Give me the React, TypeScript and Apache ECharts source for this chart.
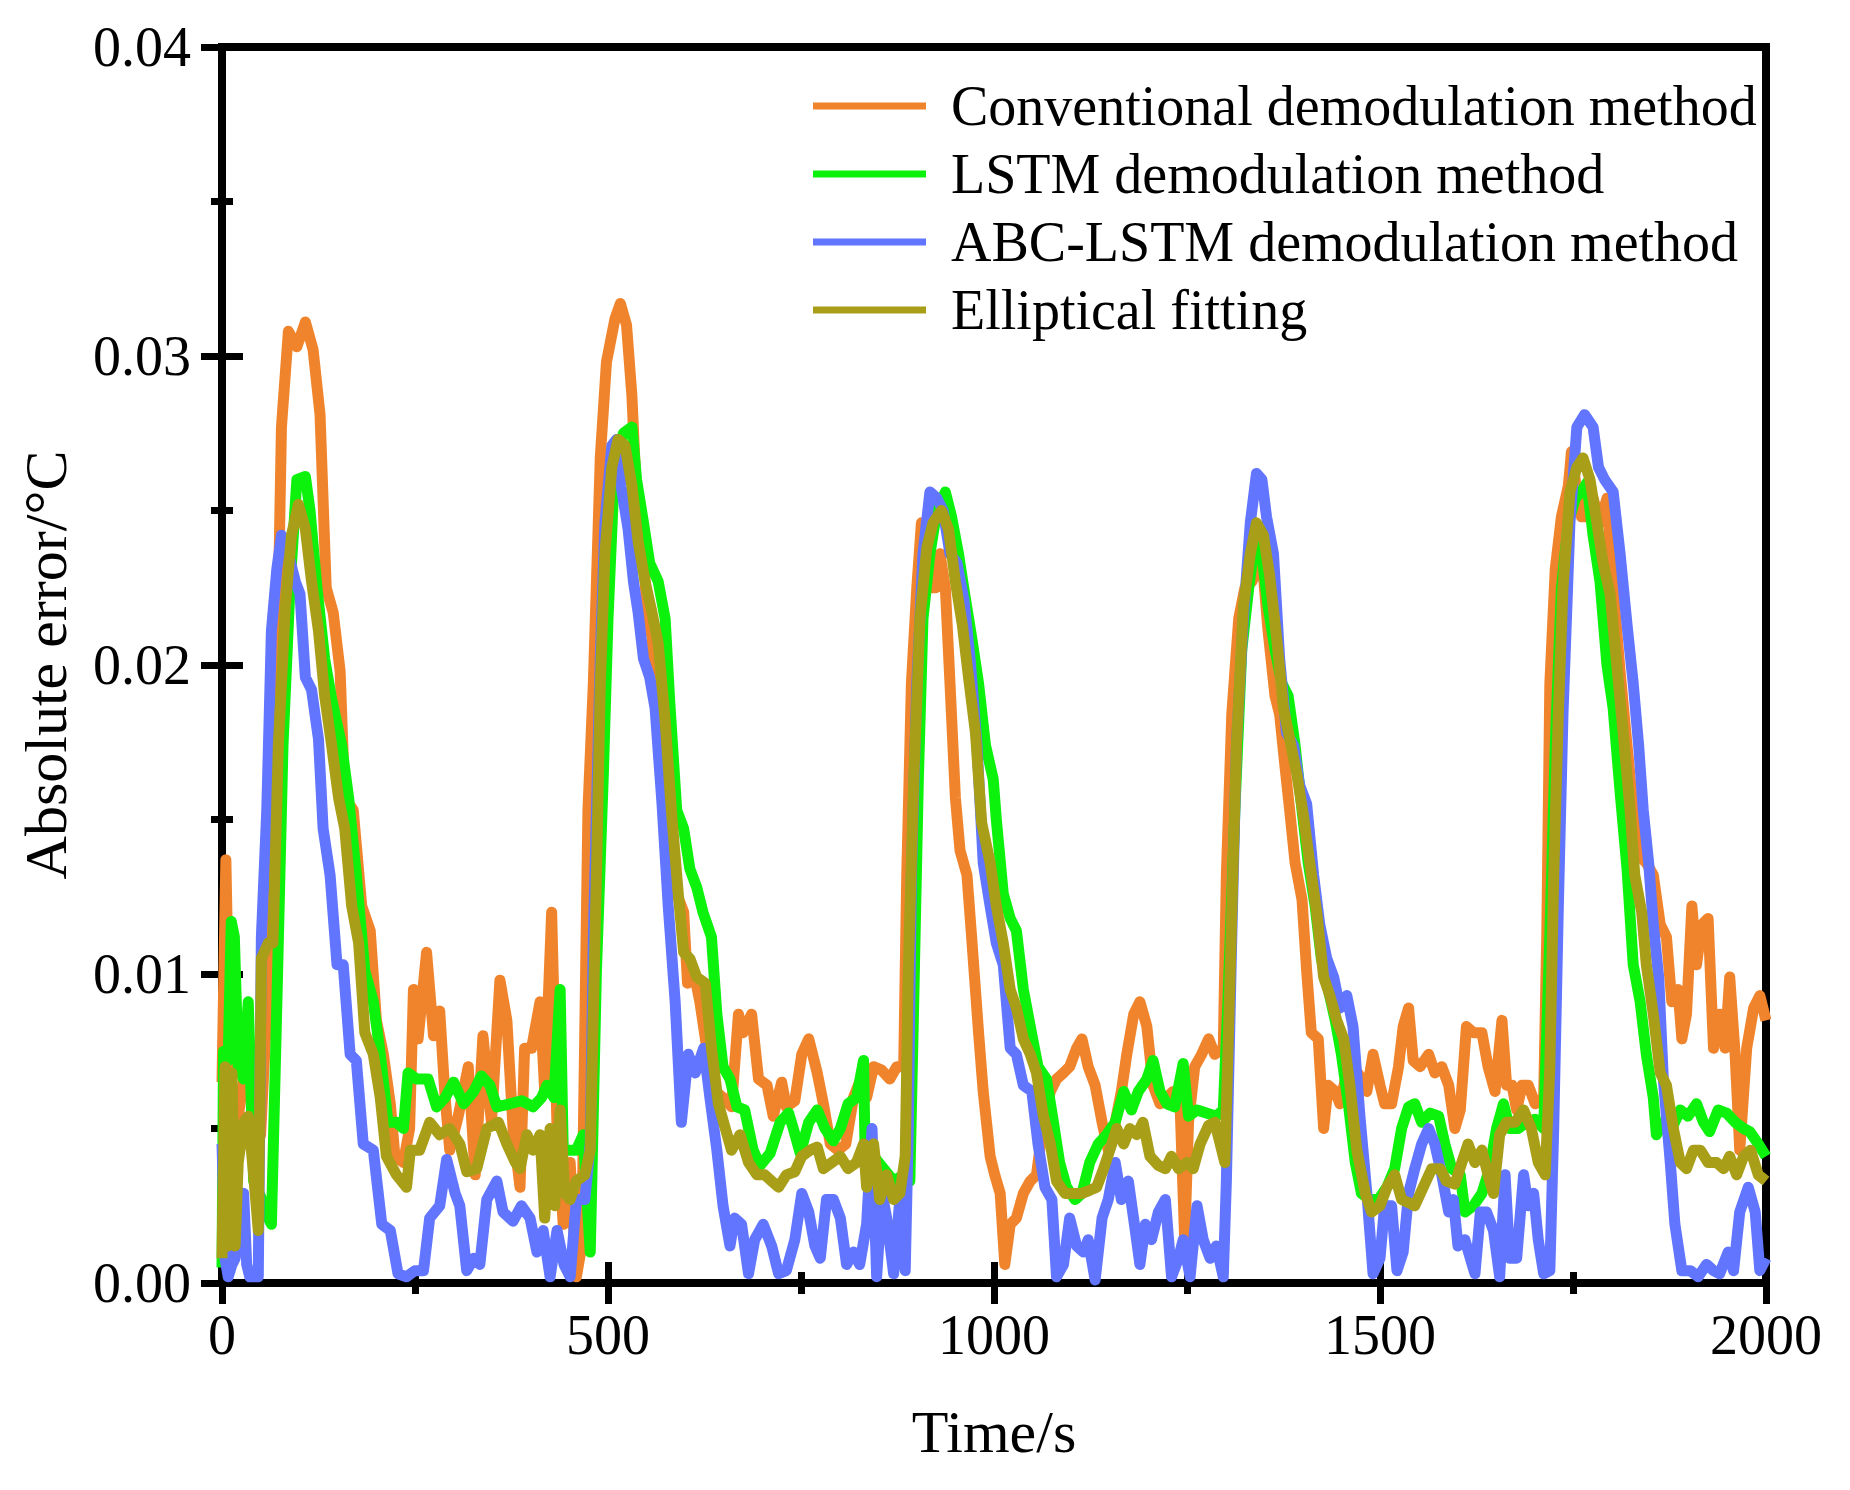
import * as echarts from "echarts";
import { useEffect, useRef } from "react";

const FONT = '"Liberation Serif", "Times New Roman", serif';

const seriesNames = [
  "Conventional demodulation method",
  "LSTM demodulation method",
  "ABC-LSTM demodulation method",
  "Elliptical fitting",
];
const seriesColors = ["#F0842C", "#0CF20C", "#6175FF", "#A89E18"];

// [time s, absolute error °C]
const conventional: [number, number][] = [
  [0, 0.0065], [5, 0.0137], [9, 0.0085], [14, 0.0048], [20, 0.0052], [28, 0.0066], [36, 0.0074], [42, 0.0042], [50, 0.0048], [56, 0.0078],
  [62, 0.0105], [71, 0.0194], [77, 0.0277], [86, 0.0308], [97, 0.0303], [108, 0.0311], [118, 0.0302], [127, 0.0281], [135, 0.0225], [144, 0.0217],
  [153, 0.0198], [159, 0.0157], [170, 0.0153], [181, 0.0122], [192, 0.0114], [200, 0.0085], [209, 0.0074], [218, 0.0058], [224, 0.0041], [235, 0.0039],
  [243, 0.005], [248, 0.0095], [254, 0.0079], [265, 0.0107], [274, 0.008], [282, 0.0088], [289, 0.006], [295, 0.0043], [306, 0.0054], [319, 0.007],
  [328, 0.0035], [338, 0.008], [349, 0.0052], [360, 0.0098], [369, 0.0085], [377, 0.005], [386, 0.0031], [392, 0.0076], [401, 0.0076], [412, 0.0091],
  [418, 0.0062], [427, 0.012], [434, 0.005], [442, 0.0019], [451, 0.0039], [459, 0.0002], [466, 0.0012], [474, 0.0153], [481, 0.0194], [490, 0.0267],
  [498, 0.0298], [509, 0.0312], [516, 0.0317], [524, 0.031], [531, 0.0287], [537, 0.0254], [544, 0.0244], [550, 0.0219], [557, 0.0209], [563, 0.0186],
  [572, 0.0157], [580, 0.0138], [589, 0.0126], [598, 0.012], [603, 0.0097], [611, 0.0101], [619, 0.0091], [628, 0.0076], [639, 0.0062], [649, 0.006],
  [660, 0.0057], [669, 0.0087], [675, 0.0081], [686, 0.0087], [695, 0.0066], [706, 0.0064], [714, 0.0054], [725, 0.0065], [731, 0.0057], [742, 0.0059],
  [751, 0.0074], [760, 0.0079], [771, 0.0068], [779, 0.0058], [788, 0.0045], [798, 0.0043], [808, 0.0045], [818, 0.006], [826, 0.0065], [835, 0.006],
  [844, 0.007], [854, 0.0069], [865, 0.0066], [874, 0.007], [883, 0.007], [887, 0.0132], [893, 0.0194], [900, 0.0225], [906, 0.0246], [915, 0.0225],
  [924, 0.0225], [930, 0.0236], [937, 0.0225], [943, 0.0194], [950, 0.0157], [956, 0.014], [965, 0.0132], [971, 0.0112], [980, 0.0081], [986, 0.0062],
  [995, 0.0041], [1001, 0.0035], [1008, 0.0029], [1014, 0.0006], [1021, 0.0019], [1029, 0.0021], [1038, 0.0029], [1047, 0.0033], [1055, 0.0035], [1064, 0.0052],
  [1073, 0.0062], [1081, 0.0066], [1090, 0.0068], [1098, 0.007], [1107, 0.0076], [1114, 0.0079], [1122, 0.007], [1131, 0.0064], [1140, 0.0052], [1148, 0.0043],
  [1157, 0.0052], [1165, 0.0062], [1172, 0.0074], [1181, 0.0087], [1189, 0.0091], [1198, 0.0083], [1206, 0.0064], [1215, 0.0058], [1224, 0.006], [1232, 0.0062],
  [1241, 0.0058], [1247, 0.0014], [1252, 0.0052], [1260, 0.007], [1269, 0.0074], [1278, 0.0079], [1286, 0.0074], [1297, 0.0076], [1301, 0.0132], [1308, 0.0184],
  [1317, 0.0215], [1325, 0.0225], [1334, 0.0227], [1342, 0.0231], [1349, 0.0229], [1355, 0.0211], [1364, 0.019], [1370, 0.0184], [1377, 0.0167], [1383, 0.0153],
  [1390, 0.0136], [1399, 0.0124], [1405, 0.0101], [1411, 0.0081], [1420, 0.0079], [1427, 0.005], [1433, 0.0064], [1442, 0.0062], [1448, 0.0058], [1457, 0.0068],
  [1465, 0.007], [1474, 0.0067], [1483, 0.0062], [1491, 0.0074], [1500, 0.0064], [1506, 0.0058], [1515, 0.0058], [1524, 0.007], [1530, 0.0083], [1537, 0.0089],
  [1543, 0.0072], [1552, 0.007], [1563, 0.0074], [1571, 0.0068], [1580, 0.007], [1589, 0.0064], [1597, 0.005], [1604, 0.0056], [1612, 0.0083], [1621, 0.0081],
  [1632, 0.0081], [1640, 0.007], [1649, 0.0062], [1658, 0.0085], [1664, 0.0064], [1671, 0.0064], [1677, 0.0056], [1684, 0.0064], [1692, 0.0064], [1701, 0.0058],
  [1712, 0.006], [1716, 0.0112], [1720, 0.0194], [1727, 0.0231], [1735, 0.0248], [1744, 0.0258], [1748, 0.0269], [1755, 0.0256], [1761, 0.0248], [1768, 0.0248],
  [1776, 0.0254], [1785, 0.0246], [1794, 0.0254], [1802, 0.0225], [1811, 0.0198], [1820, 0.0174], [1828, 0.0153], [1837, 0.0138], [1845, 0.0136], [1854, 0.0132],
  [1863, 0.0116], [1871, 0.0112], [1878, 0.0091], [1886, 0.0095], [1891, 0.0079], [1897, 0.0087], [1904, 0.0122], [1910, 0.0103], [1917, 0.0116], [1925, 0.0118],
  [1932, 0.0076], [1940, 0.0087], [1947, 0.0076], [1953, 0.0099], [1960, 0.0074], [1966, 0.0043], [1975, 0.0076], [1984, 0.0089], [1992, 0.0093], [2000, 0.0085],
];

const lstm: [number, number][] = [
  [0, 0.0005], [2, 0.0075], [8, 0.0072], [12, 0.0117], [16, 0.0112], [21, 0.007], [28, 0.0066], [34, 0.0091], [41, 0.0033], [50, 0.0028],
  [58, 0.0022], [64, 0.0019], [71, 0.009], [79, 0.0174], [88, 0.0225], [97, 0.026], [108, 0.0261], [114, 0.025], [123, 0.0225], [133, 0.0202],
  [142, 0.0189], [155, 0.0174], [164, 0.0157], [174, 0.0132], [185, 0.0101], [196, 0.0091], [205, 0.0074], [215, 0.0052], [226, 0.0052], [235, 0.005],
  [241, 0.0068], [252, 0.0066], [267, 0.0066], [278, 0.0057], [289, 0.006], [300, 0.0065], [313, 0.0058], [326, 0.0062], [336, 0.0067], [347, 0.0064],
  [356, 0.0057], [373, 0.0058], [388, 0.0059], [403, 0.0057], [414, 0.006], [421, 0.0064], [430, 0.006], [438, 0.0095], [442, 0.0043], [459, 0.0043],
  [468, 0.0048], [477, 0.001], [485, 0.0101], [494, 0.0165], [500, 0.0215], [509, 0.0267], [520, 0.0275], [531, 0.0277], [537, 0.026], [546, 0.0246],
  [554, 0.0233], [565, 0.0227], [574, 0.0215], [580, 0.0188], [589, 0.0153], [598, 0.0147], [606, 0.0134], [615, 0.0128], [623, 0.012], [634, 0.0112],
  [641, 0.0087], [649, 0.007], [658, 0.0066], [667, 0.0057], [677, 0.0056], [688, 0.0043], [697, 0.0038], [710, 0.0042], [723, 0.0052], [734, 0.0055],
  [740, 0.005], [749, 0.0042], [760, 0.0052], [771, 0.0056], [781, 0.005], [792, 0.0046], [801, 0.005], [811, 0.0058], [822, 0.006], [831, 0.0072],
  [833, 0.0043], [844, 0.0041], [857, 0.0037], [870, 0.0033], [883, 0.0035], [891, 0.0033], [896, 0.0091], [902, 0.0163], [908, 0.0215], [917, 0.0236],
  [926, 0.025], [937, 0.0256], [945, 0.0248], [954, 0.0236], [962, 0.0223], [971, 0.0209], [980, 0.0194], [989, 0.0174], [999, 0.0163], [1003, 0.015],
  [1012, 0.0126], [1021, 0.0118], [1029, 0.0114], [1038, 0.0095], [1047, 0.0083], [1057, 0.007], [1068, 0.0066], [1077, 0.0052], [1085, 0.0039], [1094, 0.0031],
  [1105, 0.0027], [1114, 0.0029], [1124, 0.0039], [1135, 0.0045], [1146, 0.0048], [1157, 0.0052], [1168, 0.0062], [1178, 0.0056], [1187, 0.0062], [1198, 0.0066],
  [1206, 0.0072], [1215, 0.0062], [1224, 0.0058], [1234, 0.0057], [1245, 0.0071], [1252, 0.0054], [1263, 0.0056], [1275, 0.0055], [1288, 0.0054], [1297, 0.0056],
  [1303, 0.0091], [1312, 0.0153], [1321, 0.0205], [1330, 0.0225], [1338, 0.024], [1347, 0.0236], [1355, 0.0219], [1364, 0.0205], [1373, 0.0194], [1381, 0.019],
  [1390, 0.0174], [1399, 0.0153], [1407, 0.0136], [1416, 0.0122], [1424, 0.0105], [1433, 0.0095], [1442, 0.0085], [1450, 0.0074], [1459, 0.0058], [1468, 0.0039],
  [1476, 0.0029], [1487, 0.0027], [1498, 0.0027], [1509, 0.0031], [1519, 0.0037], [1528, 0.005], [1537, 0.0057], [1545, 0.0058], [1554, 0.0052], [1565, 0.0055],
  [1576, 0.0054], [1584, 0.0045], [1593, 0.0037], [1604, 0.0035], [1610, 0.0023], [1621, 0.0025], [1632, 0.0029], [1642, 0.0037], [1651, 0.005], [1660, 0.0058],
  [1668, 0.005], [1679, 0.005], [1690, 0.0052], [1701, 0.0053], [1712, 0.005], [1720, 0.0112], [1727, 0.0174], [1735, 0.0225], [1744, 0.0246], [1753, 0.0254],
  [1761, 0.0256], [1768, 0.0259], [1776, 0.0242], [1785, 0.0227], [1794, 0.02], [1802, 0.0186], [1811, 0.0159], [1820, 0.0134], [1828, 0.0103], [1837, 0.0091],
  [1845, 0.0074], [1854, 0.006], [1858, 0.0048], [1867, 0.0052], [1878, 0.005], [1889, 0.0056], [1899, 0.0054], [1910, 0.0058], [1919, 0.0052], [1927, 0.0049],
  [1938, 0.0056], [1949, 0.0055], [1960, 0.0052], [1971, 0.005], [1979, 0.0049], [1990, 0.0045], [2000, 0.0041],
];

const abcLstm: [number, number][] = [
  [0, 0.0045], [4, 0.0008], [8, 0.0002], [13, 0.0006], [17, 0.0008], [24, 0.0026], [28, 0.0029], [32, 0.0006], [36, 0.0002], [47, 0.0002],
  [51, 0.0112], [58, 0.0153], [64, 0.0211], [71, 0.0231], [77, 0.0242], [86, 0.0236], [95, 0.0227], [101, 0.0223], [108, 0.0196], [116, 0.0192],
  [125, 0.0176], [131, 0.0147], [140, 0.0132], [149, 0.0103], [157, 0.0103], [166, 0.0074], [174, 0.0072], [183, 0.0045], [196, 0.0043], [207, 0.0019],
  [218, 0.0017], [228, 0.0003], [239, 0.0002], [250, 0.0004], [261, 0.0004], [269, 0.0021], [282, 0.0025], [291, 0.004], [302, 0.0029], [308, 0.0025],
  [317, 0.0004], [326, 0.0008], [334, 0.0006], [343, 0.0027], [356, 0.0033], [364, 0.0023], [377, 0.002], [388, 0.0025], [399, 0.0021], [408, 0.001],
  [416, 0.0017], [425, 0.0002], [434, 0.0017], [443, 0.0006], [451, 0.0002], [459, 0.0027], [470, 0.0027], [477, 0.0045], [481, 0.0112], [490, 0.0202],
  [496, 0.0246], [505, 0.0271], [511, 0.0273], [517, 0.0258], [526, 0.0244], [533, 0.0227], [539, 0.0217], [546, 0.0202], [554, 0.0196], [561, 0.0186],
  [570, 0.0155], [578, 0.0122], [587, 0.0091], [595, 0.0052], [604, 0.0074], [613, 0.0068], [624, 0.0076], [632, 0.006], [641, 0.0043], [649, 0.0025],
  [658, 0.0012], [664, 0.0021], [673, 0.0019], [682, 0.0003], [690, 0.0014], [701, 0.0019], [712, 0.0012], [721, 0.0003], [731, 0.0004], [742, 0.0014],
  [751, 0.0029], [760, 0.0023], [768, 0.0012], [775, 0.0008], [783, 0.0027], [792, 0.0027], [801, 0.0021], [809, 0.0006], [818, 0.001], [826, 0.0006],
  [835, 0.0019], [842, 0.005], [848, 0.0002], [855, 0.0029], [861, 0.0021], [870, 0.0003], [878, 0.0027], [885, 0.0004], [889, 0.005], [893, 0.0132],
  [900, 0.0194], [908, 0.0236], [917, 0.0256], [926, 0.0254], [934, 0.025], [943, 0.0236], [952, 0.0233], [961, 0.0221], [969, 0.0202], [978, 0.0174],
  [986, 0.0136], [995, 0.0122], [1003, 0.011], [1012, 0.0103], [1021, 0.0076], [1029, 0.0074], [1038, 0.0064], [1049, 0.0062], [1057, 0.0045], [1066, 0.0031],
  [1075, 0.0027], [1081, 0.0002], [1090, 0.0006], [1098, 0.0021], [1107, 0.0012], [1116, 0.001], [1122, 0.0014], [1131, 0.0001], [1140, 0.0021], [1148, 0.0027],
  [1157, 0.0039], [1165, 0.0027], [1174, 0.0033], [1183, 0.0017], [1189, 0.0006], [1196, 0.0019], [1204, 0.0014], [1213, 0.0023], [1222, 0.0027], [1230, 0.0002],
  [1239, 0.0008], [1245, 0.0014], [1254, 0.0002], [1263, 0.0025], [1271, 0.0014], [1280, 0.0008], [1288, 0.0012], [1297, 0.0002], [1301, 0.0033], [1308, 0.0112],
  [1314, 0.0174], [1323, 0.0215], [1332, 0.0246], [1340, 0.0262], [1347, 0.026], [1353, 0.0248], [1362, 0.0236], [1370, 0.0202], [1379, 0.0178], [1388, 0.0174],
  [1396, 0.0161], [1405, 0.0155], [1414, 0.0132], [1422, 0.0116], [1431, 0.0105], [1440, 0.0099], [1448, 0.0089], [1457, 0.0093], [1465, 0.0083], [1474, 0.0054],
  [1483, 0.0029], [1491, 0.0003], [1500, 0.0008], [1506, 0.0025], [1515, 0.0025], [1522, 0.0004], [1530, 0.001], [1537, 0.0029], [1545, 0.0037], [1554, 0.0045],
  [1563, 0.005], [1571, 0.0045], [1580, 0.0035], [1589, 0.0023], [1595, 0.0027], [1601, 0.0012], [1610, 0.0014], [1617, 0.0008], [1623, 0.0003], [1630, 0.0023],
  [1638, 0.0023], [1647, 0.0017], [1655, 0.0002], [1662, 0.0035], [1668, 0.0008], [1677, 0.0008], [1686, 0.0035], [1692, 0.0025], [1699, 0.0029], [1705, 0.0014],
  [1712, 0.0003], [1720, 0.0004], [1725, 0.005], [1731, 0.0122], [1737, 0.0184], [1746, 0.0246], [1755, 0.0277], [1765, 0.0281], [1776, 0.0277], [1783, 0.0264],
  [1791, 0.026], [1802, 0.0256], [1811, 0.0236], [1820, 0.0213], [1828, 0.0194], [1835, 0.0174], [1841, 0.0153], [1848, 0.0136], [1854, 0.0116], [1861, 0.0099],
  [1867, 0.0066], [1876, 0.0039], [1882, 0.0019], [1891, 0.0004], [1902, 0.0004], [1912, 0.0002], [1923, 0.0006], [1932, 0.0004], [1940, 0.0003], [1951, 0.001],
  [1958, 0.0004], [1966, 0.0023], [1977, 0.0031], [1986, 0.0023], [1992, 0.0004], [2000, 0.0008],
];

const elliptical: [number, number][] = [
  [0, 0.0008], [4, 0.007], [8, 0.0012], [13, 0.0068], [17, 0.0012], [21, 0.0039], [28, 0.0052], [34, 0.0054], [41, 0.0035], [47, 0.0017],
  [51, 0.0105], [60, 0.011], [66, 0.011], [73, 0.0174], [82, 0.0219], [90, 0.0242], [99, 0.0252], [108, 0.0244], [116, 0.0227], [125, 0.0211],
  [133, 0.019], [142, 0.0174], [151, 0.0157], [159, 0.0147], [168, 0.0122], [177, 0.011], [185, 0.0081], [196, 0.0074], [205, 0.006], [213, 0.0041],
  [226, 0.0035], [239, 0.0031], [244, 0.0043], [256, 0.0043], [269, 0.0052], [282, 0.0048], [295, 0.005], [308, 0.0045], [317, 0.0036], [330, 0.0037],
  [343, 0.005], [358, 0.0052], [369, 0.0045], [380, 0.0039], [386, 0.0037], [395, 0.0048], [403, 0.0043], [412, 0.0048], [418, 0.0021], [425, 0.005],
  [431, 0.0025], [438, 0.0056], [444, 0.0029], [451, 0.0027], [459, 0.0033], [470, 0.0035], [477, 0.0043], [485, 0.0132], [490, 0.0194], [496, 0.0236],
  [505, 0.0264], [513, 0.0273], [522, 0.0271], [531, 0.0258], [539, 0.024], [548, 0.0227], [557, 0.0217], [565, 0.0207], [574, 0.0182], [582, 0.0153],
  [591, 0.0126], [598, 0.0107], [606, 0.0105], [615, 0.0099], [626, 0.0097], [634, 0.0076], [643, 0.0058], [652, 0.005], [660, 0.0043], [671, 0.0048],
  [682, 0.0039], [693, 0.0035], [703, 0.0035], [712, 0.0033], [721, 0.0031], [731, 0.0035], [742, 0.0036], [751, 0.0041], [762, 0.0043], [771, 0.0044],
  [779, 0.0037], [790, 0.0039], [801, 0.0041], [811, 0.0037], [822, 0.0039], [831, 0.0045], [835, 0.0031], [844, 0.0045], [852, 0.0027], [861, 0.0035],
  [870, 0.0027], [878, 0.0029], [885, 0.0041], [889, 0.0101], [896, 0.0163], [904, 0.0215], [913, 0.0238], [921, 0.0246], [932, 0.025], [941, 0.0244],
  [950, 0.0227], [959, 0.0213], [967, 0.0196], [976, 0.0178], [984, 0.0149], [995, 0.0136], [1003, 0.0122], [1012, 0.011], [1021, 0.0095], [1029, 0.0089],
  [1038, 0.0079], [1047, 0.0074], [1055, 0.0068], [1064, 0.0054], [1073, 0.0045], [1081, 0.0033], [1092, 0.0029], [1103, 0.0029], [1114, 0.0029], [1124, 0.003],
  [1133, 0.0031], [1142, 0.0037], [1150, 0.0043], [1159, 0.005], [1168, 0.0045], [1176, 0.005], [1185, 0.0048], [1193, 0.0052], [1202, 0.0041], [1213, 0.0038],
  [1222, 0.0037], [1230, 0.0041], [1239, 0.0037], [1250, 0.0039], [1258, 0.0037], [1267, 0.0045], [1278, 0.0051], [1286, 0.0052], [1293, 0.0045], [1299, 0.0039],
  [1306, 0.0101], [1314, 0.0174], [1323, 0.0219], [1332, 0.0236], [1340, 0.0246], [1349, 0.0242], [1357, 0.0229], [1366, 0.0209], [1375, 0.0186], [1383, 0.0176],
  [1392, 0.0165], [1401, 0.0151], [1409, 0.0136], [1418, 0.012], [1427, 0.0099], [1435, 0.0093], [1444, 0.0085], [1453, 0.0079], [1461, 0.0064], [1470, 0.0043],
  [1481, 0.0029], [1489, 0.0023], [1500, 0.0025], [1509, 0.0031], [1519, 0.0035], [1528, 0.0027], [1537, 0.0026], [1545, 0.0025], [1556, 0.0031], [1567, 0.0037],
  [1578, 0.0037], [1586, 0.0033], [1597, 0.0032], [1606, 0.0039], [1614, 0.0045], [1623, 0.0039], [1632, 0.0043], [1640, 0.0035], [1647, 0.0029], [1655, 0.0048],
  [1664, 0.0052], [1675, 0.0052], [1686, 0.0056], [1696, 0.005], [1705, 0.0039], [1714, 0.0035], [1720, 0.007], [1725, 0.0132], [1731, 0.0184], [1737, 0.0225],
  [1746, 0.0256], [1755, 0.0264], [1763, 0.0267], [1772, 0.026], [1781, 0.0246], [1789, 0.0233], [1798, 0.0223], [1806, 0.0202], [1815, 0.0178], [1824, 0.0153],
  [1830, 0.0132], [1839, 0.012], [1845, 0.0103], [1854, 0.0087], [1863, 0.0068], [1871, 0.0064], [1880, 0.005], [1889, 0.0039], [1897, 0.0037], [1906, 0.0043],
  [1915, 0.0043], [1925, 0.0039], [1936, 0.0039], [1945, 0.0037], [1953, 0.0041], [1962, 0.0035], [1971, 0.0041], [1980, 0.0043], [1990, 0.0035], [2000, 0.0033],
];

const seriesData = [conventional, lstm, abcLstm, elliptical];

export default function App() {
  const ref = useRef<HTMLDivElement | null>(null);

  useEffect(() => {
    if (!ref.current) return;
    const chart = echarts.init(ref.current, undefined, { renderer: "svg" });

    const tickStyle = { color: "#000", width: 7 };
    const xCommon = {
      type: "value" as const,
      min: 0,
      max: 2000,
      interval: 500,
      axisLine: { show: false },
      splitLine: { show: false },
      axisTick: { show: true, inside: true, length: 21, lineStyle: tickStyle },
      minorTick: { show: true, splitNumber: 2, length: 11, lineStyle: tickStyle },
    };
    const yCommon = {
      type: "value" as const,
      min: 0,
      max: 0.04,
      interval: 0.01,
      axisLine: { show: false },
      splitLine: { show: false },
      axisTick: { show: true, inside: true, length: 21, lineStyle: tickStyle },
      minorTick: { show: true, splitNumber: 2, length: 11, lineStyle: tickStyle },
    };
    const labelStyle = { color: "#000", fontSize: 56, fontFamily: FONT };
    const titleStyle = { color: "#000", fontSize: 60, fontFamily: FONT };

    chart.setOption({
      animation: false,
      backgroundColor: "#fff",
      grid: {
        left: 222,
        right: 84,
        top: 47,
        bottom: 207,
        show: true,
        borderColor: "#000",
        borderWidth: 8,
      },
      legend: {
        data: seriesNames,
        orient: "vertical",
        left: 813,
        top: 78,
        padding: 0,
        icon: "rect",
        itemWidth: 113,
        itemHeight: 7,
        itemGap: 12,
        textStyle: { ...labelStyle, padding: [0, 0, 0, 20] },
      },
      xAxis: [
        {
          ...xCommon,
          position: "bottom",
          name: "Time/s",
          nameLocation: "middle",
          nameGap: 119,
          nameTextStyle: titleStyle,
          axisLabel: { ...labelStyle, margin: 24, formatter: (v: number) => String(v) },
        },
        { ...xCommon, position: "top", axisLabel: { show: false } },
      ],
      yAxis: [
        {
          ...yCommon,
          position: "left",
          name: "Absolute error/°C",
          nameLocation: "middle",
          nameRotate: 90,
          nameGap: 146,
          nameTextStyle: titleStyle,
          axisLabel: {
            ...labelStyle,
            margin: 31,
            formatter: (v: number) => v.toFixed(2),
          },
        },
        { ...yCommon, position: "right", axisLabel: { show: false } },
      ],
      series: seriesNames.map((name, i) => ({
        name,
        type: "line",
        data: seriesData[i],
        symbol: "none",
        showSymbol: false,
        clip: false,
        itemStyle: { color: seriesColors[i] },
        lineStyle: { color: seriesColors[i], width: 11, join: "round" },
        z: 2 + i,
      })),
    });

    return () => {
      chart.dispose();
    };
  }, []);

  return (
    <div
      ref={ref}
      style={{ position: "fixed", left: 0, top: 0, width: 1850, height: 1490 }}
    />
  );
}
